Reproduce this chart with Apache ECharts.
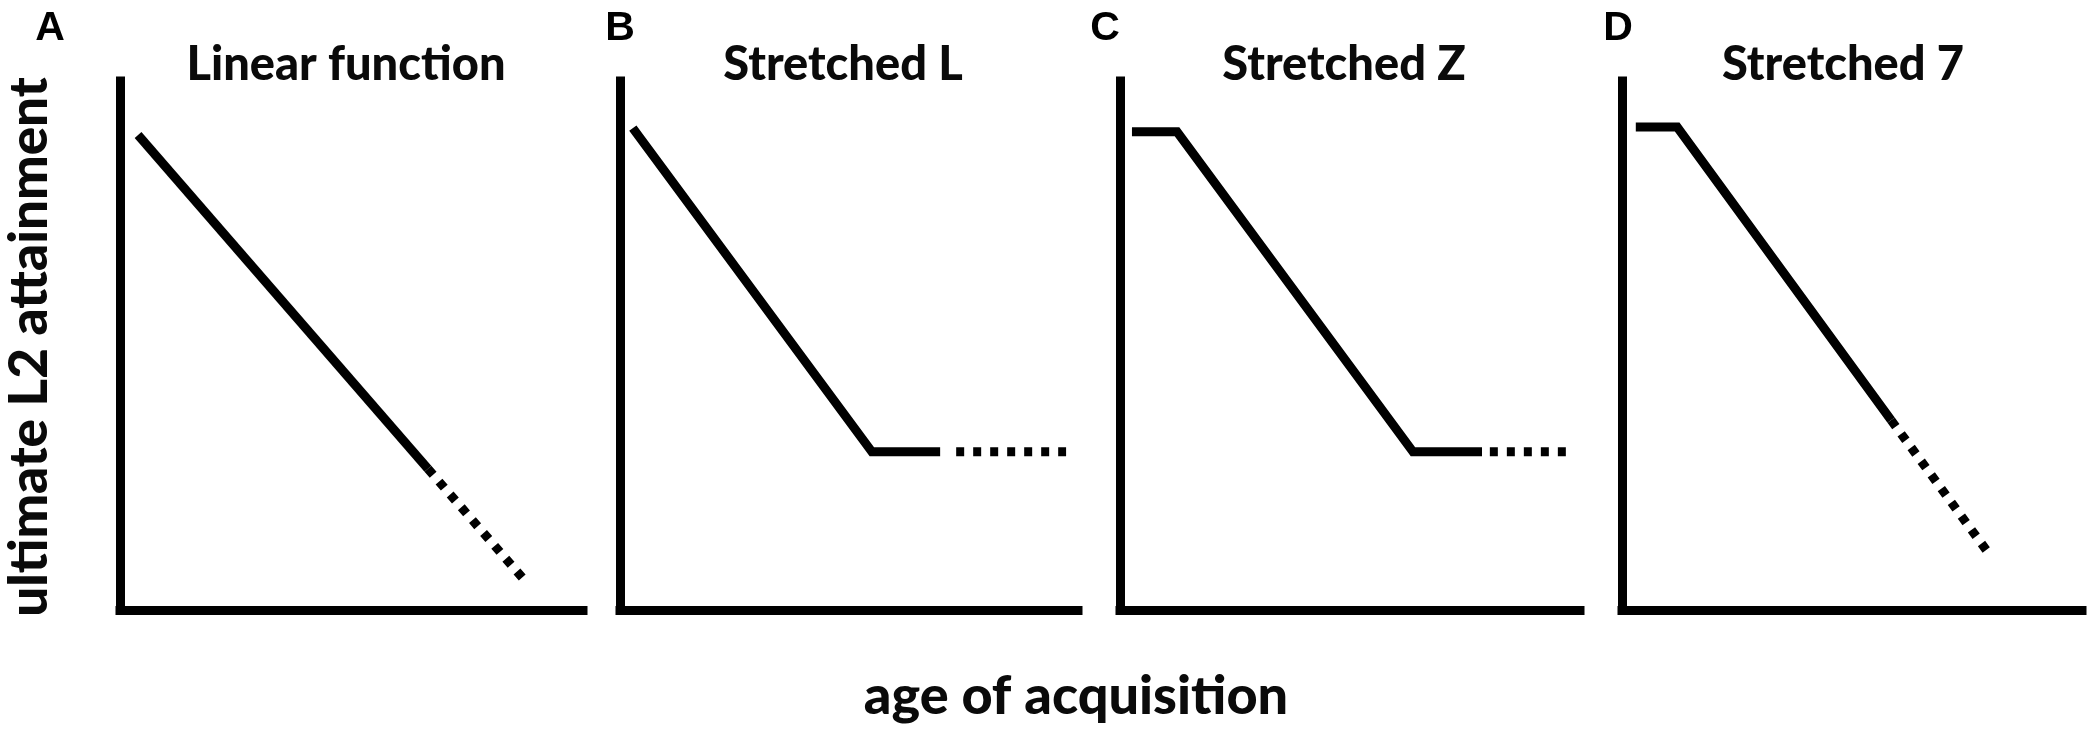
<!DOCTYPE html>
<html>
<head>
<meta charset="utf-8">
<script src="https://cdn.jsdelivr.net/npm/echarts@6/dist/echarts.min.js"></script>
<style>
  html, body { margin: 0; padding: 0; background: #ffffff; }
  #chart { width: 2099px; height: 733px; }
</style>
</head>
<body>
<div id="chart"></div>
<script>
// ---- data (x: age of acquisition, y: ultimate L2 attainment; both 0-100 schematic units) ----
const panelLetters = ['A', 'B', 'C', 'D'];
const panelTitles = ['Linear function', 'Stretched L', 'Stretched Z', 'Stretched 7'];
const xAxisName = 'age of acquisition';
const yAxisName = 'ultimate L2 attainment';

const solidA  = [[3.9, 89.8], [66.5, 26.7]];
const dottedA = [[66.5, 26.7], [87.0, 6.0]];

const solidB  = [[2.8, 91.1], [55.0, 29.9], [69.9, 29.9]];
const dottedB = [[73.4, 29.9], [97.4, 29.9]];

const solidC  = [[2.6, 90.4], [12.4, 90.4], [63.7, 29.9], [78.7, 29.9]];
const dottedC = [[80.4, 29.9], [97.0, 29.9]];

const solidD  = [[3.0, 91.3], [12.0, 91.3], [58.5, 35.9]];
const dottedD = [[58.5, 35.9], [79.3, 11.2]];

const solidSets = [solidA, solidB, solidC, solidD];
const dottedSets = [dottedA, dottedB, dottedC, dottedD];

// ---- layout ----
const gridLefts = [120, 620, 1120, 1622];
const gridWidths = [463, 458, 460, 460];
const gridTop = 81;
const gridHeight = 529;
const titleCenters = [346, 843, 1344, 1843];
const letterCenters = [50, 620, 1105, 1618];

const calibriLike = 'Lato, "Open Sans", sans-serif';
const ink = '#0a0a0a';

const grids = [], xAxes = [], yAxes = [], series = [], graphics = [];
for (let i = 0; i < 4; i++) {
  grids.push({ left: gridLefts[i], top: gridTop, width: gridWidths[i], height: gridHeight });
  const axisCommon = {
    gridIndex: i, type: 'value', min: 0, max: 100,
    axisLine: { show: true, onZero: false, lineStyle: { color: '#000', width: 9, cap: 'square' } },
    axisTick: { show: false }, axisLabel: { show: false }, splitLine: { show: false }
  };
  xAxes.push(Object.assign({}, axisCommon));
  yAxes.push(Object.assign({}, axisCommon));
  series.push({
    type: 'line', xAxisIndex: i, yAxisIndex: i, data: solidSets[i],
    showSymbol: false, symbol: 'none', silent: true,
    lineStyle: { color: '#000', width: 9, cap: 'butt', join: 'miter' }
  });
  series.push({
    type: 'line', xAxisIndex: i, yAxisIndex: i, data: dottedSets[i],
    showSymbol: false, symbol: 'none', silent: true,
    lineStyle: { color: '#000', width: 9, type: [8, 9], cap: 'butt' }
  });
  graphics.push({
    type: 'text', x: titleCenters[i], y: 65,
    style: { text: panelTitles[i], fill: ink, font: '900 47px ' + calibriLike, textAlign: 'center', textVerticalAlign: 'middle' }
  });
  graphics.push({
    type: 'text', x: letterCenters[i], y: 29,
    style: { text: panelLetters[i], fill: '#000', font: 'bold 41px "Liberation Sans", Arial, sans-serif', textAlign: 'center', textVerticalAlign: 'middle' }
  });
}
graphics.push({
  type: 'text', x: 1076, y: 697,
  style: { text: xAxisName, fill: ink, font: '900 54px ' + calibriLike, textAlign: 'center', textVerticalAlign: 'middle' }
});
graphics.push({
  type: 'text', x: 30, y: 347, rotation: Math.PI / 2,
  style: { text: yAxisName, fill: ink, font: '900 53px ' + calibriLike, textAlign: 'center', textVerticalAlign: 'middle' }
});

const chart = echarts.init(document.getElementById('chart'), null, { renderer: 'canvas' });
chart.setOption({
  backgroundColor: '#ffffff',
  animation: false,
  grid: grids,
  xAxis: xAxes,
  yAxis: yAxes,
  series: series,
  graphic: graphics
});
</script>
</body>
</html>
